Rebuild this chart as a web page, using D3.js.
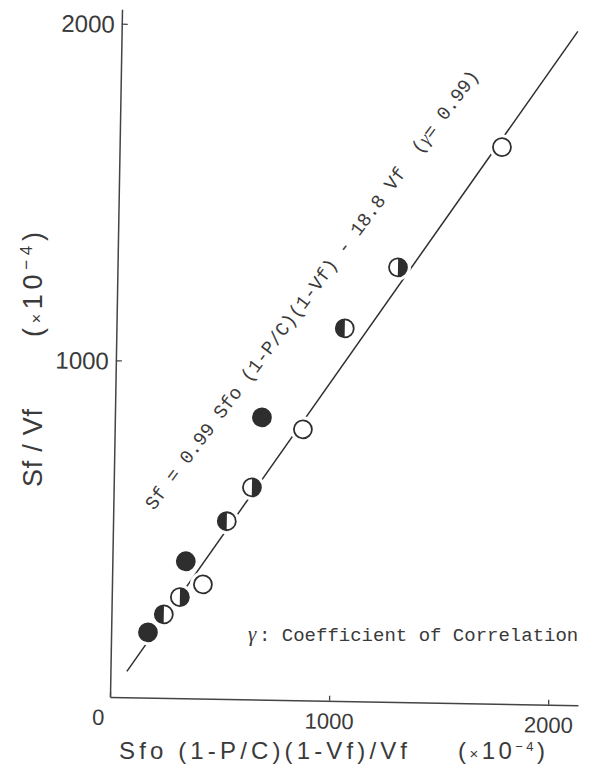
<!DOCTYPE html>
<html><head><meta charset="utf-8">
<script src="https://cdn.jsdelivr.net/npm/d3@7/dist/d3.min.js"></script>
<style>body{margin:0;background:#fff}</style>
</head><body>
<svg id="c" width="601" height="769"></svg>
<script>
// ---- data (units ×10^-4) ----
const xTicks = [0, 1000, 2000];
const yTicks = [1000, 2000];
const ptX = [168, 239, 311, 415, 335, 519, 631, 671, 859, 1042, 1280, 1745];
const ptY = [194, 248, 300, 339, 407, 528, 630, 838, 805, 1107, 1291, 1653];
const ptType = ["filled","halfLeft","halfRight","open","filled","halfLeft","halfRight","filled","open","halfLeft","halfRight","open"];
const fitX = [75, 2082];
const fitY = [77, 2001];
const xMax = 2136, yMax = 2043;
const xTitle = "Sfo (1-P/C)(1-Vf)/Vf";
const yTitle = "Sf / Vf";
const eqText = "Sf = 0.99 Sfo (1-P/C)(1-Vf) - 18.8 Vf  (";
const eqTail = "= 0.99)";
const legendText = ": Coefficient of Correlation";

const ink = "#2e2e2e";
const txt = "#3a3a3a";
const svg = d3.select("#c");
const O = [110, 697];
const x = d3.scaleLinear().domain([0, xMax]).range([0, xMax * 0.2191]);
const y = d3.scaleLinear().domain([0, yMax]).range([0, -yMax * 0.3367]);
const g = svg.append("g").attr("transform", `translate(${O[0]},${O[1]}) rotate(1)`);
const sans = "'Liberation Sans', Arial, sans-serif";
const mono = "'Liberation Mono', 'Courier New', monospace";

// axes
const xa = g.append("g").call(d3.axisBottom(x).tickValues(xTicks).tickSizeInner(-5).tickSizeOuter(0).tickFormat(d3.format("d")));
const ya = g.append("g").call(d3.axisLeft(y).tickValues(yTicks).tickSizeInner(-6).tickSizeOuter(0).tickFormat(d3.format("d")));
[xa, ya].forEach(a => {
  a.select(".domain").attr("stroke", "#444").attr("stroke-width", 1.5);
  a.selectAll(".tick line").attr("stroke", "#444").attr("stroke-width", 1.3);
  a.selectAll("text").attr("fill", txt).style("font-family", sans);
});
xa.selectAll("text").style("font-size", "22px").attr("y", 28).attr("dy", 0).attr("x", d => d === 0 ? -12 : 0);
ya.selectAll("text").style("font-size", "24px").attr("x", -7).attr("dy", "0.36em");

// fit line
g.append("path")
  .attr("d", d3.line().x(d => x(d[0])).y(d => y(d[1]))(fitX.map((v, i) => [v, fitY[i]])))
  .attr("stroke", ink).attr("stroke-width", 1.5).attr("fill", "none");

// points
const pts = ptX.map((v, i) => ({ x: v, y: ptY[i], t: ptType[i] }));
g.selectAll("circle.halo").data(pts).join("circle").attr("class", "halo")
  .attr("cx", d => x(d.x)).attr("cy", d => y(d.y)).attr("r", 13).attr("fill", "#fff");
const R = 9;
const m = g.selectAll("g.pt").data(pts).join("g").attr("class", "pt")
  .attr("transform", d => `translate(${x(d.x)},${y(d.y)})`);
m.append("circle").attr("r", R).attr("fill", d => d.t === "filled" ? ink : "#fff")
  .attr("stroke", ink).attr("stroke-width", 1.8);
m.filter(d => d.t === "halfLeft" || d.t === "halfRight").append("path")
  .attr("d", d => `M0,${-R} A${R},${R} 0 0 ${d.t === "halfLeft" ? 0 : 1} 0,${R} Z`)
  .attr("fill", ink);

// axis titles
svg.append("text").attr("x", 119).attr("y", 759).attr("textLength", 288).attr("lengthAdjust", "spacing")
  .style("font-family", sans).style("font-size", "24px").attr("fill", txt).text(xTitle);
const xu = svg.append("text").attr("x", 458).attr("y", 759).attr("textLength", 87).attr("lengthAdjust", "spacing")
  .style("font-family", sans).style("font-size", "24px").attr("fill", txt);
xu.append("tspan").text("(");
xu.append("tspan").style("font-size", "15px").text("×");
xu.append("tspan").text("10");
xu.append("tspan").attr("dy", -8).style("font-size", "13px").text("−4");
xu.append("tspan").attr("dy", 8).text(")");

svg.append("text").attr("transform", "translate(42,487) rotate(-90)").attr("textLength", 78).attr("lengthAdjust", "spacing")
  .style("font-family", sans).style("font-size", "27px").attr("fill", txt).text(yTitle);
const yu = svg.append("text").attr("transform", "translate(42,337) rotate(-90)").attr("textLength", 105).attr("lengthAdjust", "spacing")
  .style("font-family", sans).style("font-size", "27px").attr("fill", txt);
yu.append("tspan").text("(");
yu.append("tspan").style("font-size", "16px").text("×");
yu.append("tspan").text("10");
yu.append("tspan").attr("dy", -10).style("font-size", "17px").text("−4");
yu.append("tspan").attr("dy", 10).text(")");

// equation along the line
const eq = svg.append("text").attr("transform", "translate(154,511) rotate(-53.2)")
  .style("font-family", mono).style("font-size", "19px").style("white-space", "pre").attr("fill", txt);
eq.append("tspan").text(eqText);
eq.append("tspan").style("font-family", "'Liberation Serif', serif").style("font-style", "italic").text("γ");
eq.append("tspan").text(eqTail);

// legend note
svg.append("text").attr("x", 248).attr("y", 641).style("font-family", "'Liberation Serif', serif").style("font-style", "italic")
  .style("font-size", "21px").attr("fill", txt).text("γ");
svg.append("text").attr("x", 259).attr("y", 641).style("font-family", mono).style("font-size", "19px")
  .attr("fill", txt).text(legendText);
</script>
</body></html>
